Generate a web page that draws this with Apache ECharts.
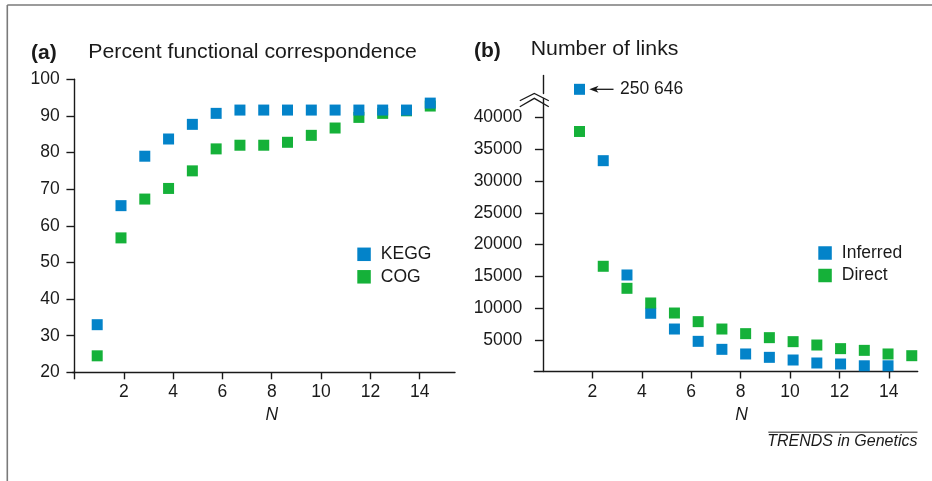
<!DOCTYPE html>
<html>
<head>
<meta charset="utf-8">
<script src="https://cdn.jsdelivr.net/npm/echarts@6/dist/echarts.min.js"></script>
<style>
html,body{margin:0;padding:0;background:#fff;}
#chart{width:932px;height:481px;}
</style>
</head>
<body>
<div id="chart"></div>
<script>
// ---------- data ----------
const nValues = [1,2,3,4,5,6,7,8,9,10,11,12,13,14,15];
const keggPct = [33, 65.5, 79, 83.7, 87.7, 90.7, 91.6, 91.6, 91.6, 91.6, 91.6, 91.6, 91.6, 91.6, 93.5];
const cogPct  = [24.5, 56.7, 67.3, 70.2, 75.0, 81.0, 82.0, 82.0, 82.8, 84.7, 86.7, 89.6, 90.7, 91.4, 92.7];
const inferredLinks = [250646, 33200, 15200, 9170, 6690, 4750, 3490, 2760, 2230, 1810, 1340, 1180, 900, 900];
const directLinks   = [37800, 16570, 13100, 10790, 9210, 7850, 6690, 5960, 5330, 4700, 4170, 3600, 3330, 2760, 2490];
const xTickLabels = [2,4,6,8,10,12,14];
const rightYTicks = [5000,10000,15000,20000,25000,30000,35000,40000];
const outlierLabel = '250 646';
const breakStart = 43000, breakEnd = 250000;

// ---------- styles ----------
const BLUE = '#0383c9';
const GREEN = '#15b139';
const FONT = '"Liberation Sans", Arial, Helvetica, sans-serif';
const TXT = '#1a1a1a';
const AX = '#1a1a1a';

const pairs = (xs, ys) => ys.map((v, i) => [xs[i], v]);

const chart = echarts.init(document.getElementById('chart'), null, {renderer: 'canvas'});

const axisCommon = {
  axisLine: {show: true, lineStyle: {color: AX, width: 1.4}},
  axisTick: {show: true, inside: false, length: 7, lineStyle: {color: AX, width: 1.4}},
  axisLabel: {color: TXT, fontFamily: FONT, fontSize: 17.5, formatter: v => String(v)},
  splitLine: {show: false}
};

const legendCommon = {
  orient: 'vertical', padding: 0,
  itemWidth: 13.5, itemHeight: 13.5, itemGap: 4.5, icon: 'rect',
  textStyle: {fontFamily: FONT, fontSize: 17.5, color: TXT, padding: [0,0,0,5]},
  selectedMode: false
};

const option = {
  animation: false,
  backgroundColor: '#fff',
  textStyle: {fontFamily: FONT},
  grid: [
    {left: 72.7, top: 79.3, width: 382.3, height: 293, containLabel: false},
    {left: 534.3, top: 75, width: 383.4, height: 296.5, containLabel: false}
  ],
  xAxis: [
    Object.assign({}, axisCommon, {
      gridIndex: 0, type: 'value', min: -0.07, max: 15.43,
      axisTick: Object.assign({}, axisCommon.axisTick, {customValues: [0].concat(xTickLabels)}),
      axisLabel: Object.assign({}, axisCommon.axisLabel, {margin: 11, customValues: xTickLabels}),
      name: 'N', nameLocation: 'middle', nameGap: 31,
      nameTextStyle: {fontFamily: FONT, fontSize: 17.5, fontStyle: 'italic', color: TXT, padding: [0,0,0,16]}
    }),
    {gridIndex: 0, type: 'value', min: -0.03, max: 16.04, show: false},
    Object.assign({}, axisCommon, {
      gridIndex: 1, type: 'value', min: -0.35, max: 15.17,
      axisTick: Object.assign({}, axisCommon.axisTick, {customValues: xTickLabels}),
      axisLabel: Object.assign({}, axisCommon.axisLabel, {margin: 12, customValues: xTickLabels}),
      name: 'N', nameLocation: 'middle', nameGap: 33,
      nameTextStyle: {fontFamily: FONT, fontSize: 17.5, fontStyle: 'italic', color: TXT, padding: [0,0,0,31]}
    }),
    {gridIndex: 1, type: 'value', min: -0.905, max: 15.25, show: false}
  ],
  yAxis: [
    Object.assign({}, axisCommon, {
      gridIndex: 0, type: 'value', min: 20, max: 100, interval: 10,
      axisTick: Object.assign({}, axisCommon.axisTick, {length: 8}),
      axisLabel: Object.assign({}, axisCommon.axisLabel, {margin: 13, padding: [3,0,0,0]})
    }),
    Object.assign({}, axisCommon, {
      gridIndex: 1, type: 'value', min: 0, max: 252899,
      breaks: [{start: breakStart, end: breakEnd, gap: 794}],
      breakArea: {show: false, itemStyle: {color: 'rgba(0,0,0,0)', borderColor: 'rgba(0,0,0,0)', opacity: 0}},
      axisTick: Object.assign({}, axisCommon.axisTick, {length: 8, customValues: rightYTicks}),
      axisLabel: Object.assign({}, axisCommon.axisLabel, {margin: 12, padding: [3,0,0,0], customValues: rightYTicks})
    })
  ],
  legend: [
    Object.assign({}, legendCommon, {data: ['KEGG', 'COG'], left: 357.3, top: 245.3}),
    Object.assign({}, legendCommon, {data: ['Inferred', 'Direct'], left: 818.3, top: 244})
  ],
  series: [
    {name: 'COG', type: 'scatter', xAxisIndex: 1, yAxisIndex: 0, symbol: 'rect', symbolSize: 11,
      itemStyle: {color: GREEN, opacity: 1}, data: pairs(nValues, cogPct)},
    {name: 'KEGG', type: 'scatter', xAxisIndex: 1, yAxisIndex: 0, symbol: 'rect', symbolSize: 11,
      itemStyle: {color: BLUE, opacity: 1}, data: pairs(nValues, keggPct)},
    {name: 'Inferred', type: 'scatter', xAxisIndex: 3, yAxisIndex: 1, symbol: 'rect', symbolSize: 11,
      itemStyle: {color: BLUE, opacity: 1},
      data: pairs(nValues, inferredLinks).map((p, i) => i === 0 ? {
        value: p,
        label: {show: true, position: 'right', distance: 35, formatter: outlierLabel,
          fontFamily: FONT, fontSize: 17.5, color: TXT}
      } : p)},
    {name: 'Direct', type: 'scatter', xAxisIndex: 3, yAxisIndex: 1, symbol: 'rect', symbolSize: 11,
      itemStyle: {color: GREEN, opacity: 1}, data: pairs(nValues, directLinks)}
  ]
};
chart.setOption(option);

// ---------- decorations positioned from the axes ----------
const outlierPx = chart.convertToPixel({xAxisIndex: 3, yAxisIndex: 1}, [nValues[0], inferredLinks[0]]);
const breakPx = chart.convertToPixel({xAxisIndex: 2, yAxisIndex: 1}, [-0.35, breakStart - 800]);
const ax = breakPx[0], by = breakPx[1];
const ox = outlierPx[0], oy = outlierPx[1];

const graphic = [
  // outer frame
  {type: 'line', shape: {x1: 7.3, y1: 5, x2: 932, y2: 5}, style: {stroke: '#7a7a7a', lineWidth: 1.6}, silent: true},
  {type: 'line', shape: {x1: 7.3, y1: 5, x2: 7.3, y2: 481}, style: {stroke: '#7a7a7a', lineWidth: 1.6}, silent: true},
  // panel labels and titles
  {type: 'text', x: 31, y: 53, style: {text: '(a)', font: 'bold 21px ' + FONT, fill: TXT, verticalAlign: 'middle'}},
  {type: 'text', x: 88.3, y: 52.5, scaleX: 1.08, style: {text: 'Percent functional correspondence', font: '19.7px ' + FONT, fill: TXT, verticalAlign: 'middle'}},
  {type: 'text', x: 474, y: 51, style: {text: '(b)', font: 'bold 21px ' + FONT, fill: TXT, verticalAlign: 'middle'}},
  {type: 'text', x: 530.7, y: 50, scaleX: 1.08, style: {text: 'Number of links', font: '19.7px ' + FONT, fill: TXT, verticalAlign: 'middle'}},
  // axis break chevrons
  {type: 'polyline', shape: {points: [[ax - 14.5, by - 2.8], [ax, by - 10], [ax + 14.5, by - 2.8]]}, style: {stroke: AX, lineWidth: 1.3, fill: null}},
  {type: 'polyline', shape: {points: [[ax - 14.5, by + 3.2], [ax, by - 5.2], [ax + 14.5, by + 3.2]]}, style: {stroke: AX, lineWidth: 1.3, fill: null}},
  // arrow to outlier
  {type: 'line', shape: {x1: ox + 14, y1: oy, x2: ox + 34, y2: oy}, style: {stroke: AX, lineWidth: 1.3}},
  {type: 'polygon', shape: {points: [[ox + 9.8, oy], [ox + 19, oy - 3.5], [ox + 16.5, oy], [ox + 19, oy + 3.5]]}, style: {fill: AX}},
  // source credit
  {type: 'line', shape: {x1: 768.3, y1: 432.3, x2: 917.5, y2: 432.3}, style: {stroke: '#6e6e6e', lineWidth: 1.4}},
  {type: 'text', x: 917.5, y: 442, style: {text: 'TRENDS in Genetics', font: 'italic 16px ' + FONT, fill: TXT, align: 'right', verticalAlign: 'middle'}}
];
chart.setOption({graphic: graphic});
</script>
</body>
</html>
